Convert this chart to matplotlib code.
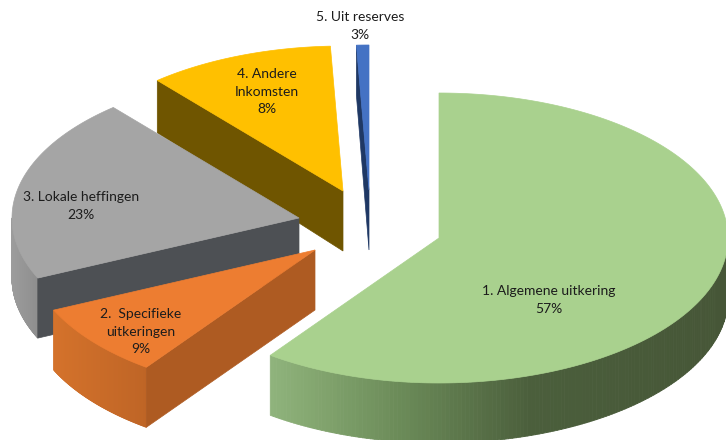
import numpy as np
import matplotlib
matplotlib.use("Agg")
import matplotlib.pyplot as plt
from matplotlib.collections import PolyCollection
from matplotlib.colors import LinearSegmentedColormap

# printed labels
names = ["1. Algemene uitkering", "2.  Specifieke\nuitkeringen", "3. Lokale heffingen",
         "4. Andere\nInkomsten", "5. Uit reserves"]
percent_labels = [57, 9, 23, 8, 3]

# share of the circle each slice takes as drawn in the picture (the perspective
# of the original makes these differ a bit from the printed percentages)
drawn_shares = [60.0, 8.2, 20.6, 10.5, 0.7]

# layout, in pixels of the 726x440 picture
RX_RIGHT, RX_LEFT, RY = 289, 287, 145
centers = [(439, 238), (315, 250), (299, 218), (343, 191), (369, 190)]
label_pos = [(549, 300), (141, 331.5), (81, 206), (267, 91.5), (360, 26)]
top_colors = ["#A9D18E", "#ED7D31", "#A5A5A5", "#FFC000", "#4472C4"]
cut_colors = [None, "#AE5B22", "#4D5054", "#6F5500", "#1F3864"]
wall_stops = [[(0, "#90B47C"), (0.28, "#6C8C59"), (0.57, "#4B5F3C"), (1, "#465637")],
              [(0, "#D4722B"), (1, "#BF6526")],
              [(0, "#9C9C9C"), (1, "#8E8E8E")],
              None, None]


def depth_at(y):
    # back of the pie is a little thinner than the front
    return min(60, 50 + 0.07 * (y - 46))


def rim(cx, cy, t):
    # t in degrees, clockwise from 12 o'clock
    r = np.radians(t)
    s = np.sin(r)
    return cx + np.where(s > 0, RX_RIGHT, RX_LEFT) * s, cy - RY * np.cos(r)


def draw_wall(ax, cx, cy, t0, t1, stops):
    # outer wall, cut in small quads so the colour can run along it
    cmap = LinearSegmentedColormap.from_list("wall", stops)
    ts = np.linspace(t0, t1, 160)
    xs, ys = rim(cx, cy, ts)
    quads, cols = [], []
    for i in range(len(ts) - 1):
        quads.append([(xs[i], ys[i]), (xs[i + 1], ys[i + 1]),
                      (xs[i + 1], ys[i + 1] + depth_at(ys[i + 1])),
                      (xs[i], ys[i] + depth_at(ys[i]))])
        # colour runs left to right in the picture
        cols.append(cmap((xs[i] - xs.min()) / (xs.max() - xs.min())))
    ax.add_collection(PolyCollection(quads, facecolors=cols, edgecolors=cols, linewidths=0.6))


def draw_slice(ax, i, t0, t1):
    cx, cy = centers[i]
    ts = np.linspace(t0, t1, 200)
    xs, ys = rim(cx, cy, ts)

    # walls first, the top goes over them
    w0, w1 = max(t0, 90), min(t1, 270)
    if wall_stops[i] is not None and w1 > w0:
        draw_wall(ax, cx, cy, w0, w1, wall_stops[i])

    # cut face that looks at the viewer is the one at the start of the slice,
    # except for the big green one which shows none
    if cut_colors[i] is not None:
        ex, ey = rim(cx, cy, t0)
        ax.fill([cx, ex, ex, cx], [cy, ey, ey + depth_at(ey), cy + depth_at(cy)],
                color=cut_colors[i], lw=0.5)

    ax.fill(np.r_[cx, xs], np.r_[cy, ys], color=top_colors[i], lw=0.5)


fig = plt.figure(figsize=(7.26, 4.40), dpi=100)
ax = fig.add_axes([0, 0, 1, 1])
ax.set_xlim(0, 726)
ax.set_ylim(440, 0)
ax.axis("off")

edges = np.r_[0, np.cumsum(drawn_shares)] / np.sum(drawn_shares) * 360

# back to front: blue, yellow, grey, orange, green
for i in [4, 3, 2, 1, 0]:
    draw_slice(ax, i, edges[i], edges[i + 1])

for i in range(len(names)):
    ax.text(label_pos[i][0], label_pos[i][1], "%s\n%d%%" % (names[i], percent_labels[i]),
            ha="center", va="center", family="Lato", fontsize=10, color="#1c1c1c",
            linespacing=1.55)

fig.savefig("out.png", dpi=100)
